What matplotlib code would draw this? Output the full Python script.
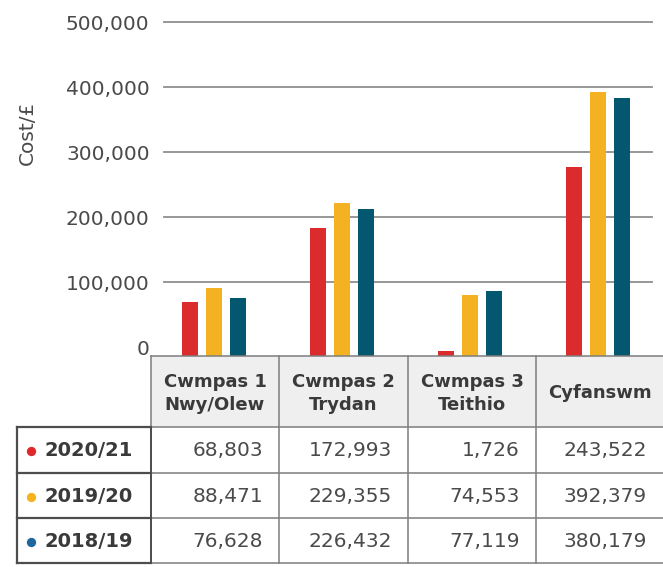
import matplotlib
matplotlib.use("Agg")
import matplotlib.pyplot as plt
from matplotlib.patches import Rectangle

plt.rcParams['font.family'] = ['DejaVu Sans']

# ---- data ----
categories = ["Cwmpas 1\nNwy/Olew", "Cwmpas 2\nTrydan", "Cwmpas 3\nTeithio", "Cyfanswm"]
years = ["2020/21", "2019/20", "2018/19"]
# bar heights as drawn in the chart
bars_2020_21 = [69700, 183500, -5500, 277000]
bars_2019_20 = [91200, 222000, 80500, 392800]
bars_2018_19 = [75800, 212800, 86600, 383500]
# table values as printed
table_2020_21 = ["68,803", "172,993", "1,726", "243,522"]
table_2019_20 = ["88,471", "229,355", "74,553", "392,379"]
table_2018_19 = ["76,628", "226,432", "77,119", "380,179"]
yticks = [0, 100000, 200000, 300000, 400000, 500000]
ylabel = "Cost/£"

bar_colors = ["#dc2b2c", "#f4b223", "#03576f"]
dot_colors = ["#e0282c", "#f5b324", "#1d679c"]
text_col = "#4a4a4a"

W, H = 663, 567
fig = plt.figure(figsize=(W / 100, H / 100), dpi=100)

# chart axes: x from 151 to 663 px, y from 10 to 356 px
ax_left, ax_right, ax_top, ax_bot = 151, 663, 10, 356
ax = fig.add_axes([ax_left / W, (H - ax_bot) / H, (ax_right - ax_left) / W, (ax_bot - ax_top) / H])
YMIN, YMAX = -13385, 518900
ax.set_ylim(YMIN, YMAX)
ax.set_xlim(-0.5, 3.5)

series = [bars_2020_21, bars_2019_20, bars_2018_19]
offsets = [-0.1875, 0.0, 0.1875]
for vals, off, col in zip(series, offsets, bar_colors):
    xs = [i + off - 0.008 for i in range(len(categories))]
    ax.bar(xs, [v - YMIN for v in vals], bottom=YMIN, width=0.125, color=col, zorder=3)

for t in yticks[1:]:
    ax.axhline(t, xmin=(164 - 151) / 512, xmax=(652 - 151) / 512, color="#8f8f8f", lw=1.3, zorder=1)

ax.set_yticks(yticks)
ax.set_yticklabels([f"{t:,}" for t in yticks], fontsize=14.5, color=text_col)
ax.tick_params(axis='y', length=0, pad=1)
ax.set_xticks([])
for s in ax.spines.values():
    s.set_visible(False)

fig.text(27 / W, 1 - 133 / H, ylabel, rotation=90, ha='center', va='center', fontsize=14.5, color=text_col)

# ---- table ----
tax = fig.add_axes([0, 0, 1, 1])
tax.set_xlim(0, W)
tax.set_ylim(H, 0)
tax.axis('off')

col_x = [151, 279, 408, 536, 663]
row_y = [356, 427, 473, 518, 563]
label_x0 = 17

# header
for i, cat in enumerate(categories):
    tax.add_patch(Rectangle((col_x[i], row_y[0]), col_x[i + 1] - col_x[i], row_y[1] - row_y[0],
                            facecolor="#efefef", edgecolor="none", zorder=1))
    tax.text((col_x[i] + col_x[i + 1]) / 2, (row_y[0] + row_y[1]) / 2 + 2, cat, ha='center', va='center',
             fontsize=13, fontweight='bold', color="#3a3a3a", linespacing=1.3)

grid_c = "#7d7d7d"
for y in row_y:
    tax.plot([col_x[0], W], [y, y], color=grid_c, lw=1.1, zorder=2)
for x in col_x[:-1]:
    tax.plot([x, x], [row_y[0], row_y[-1]], color=grid_c, lw=1.1, zorder=2)

# row header cells
dark = "#4d4d4d"
tax.plot([label_x0, label_x0], [row_y[1], row_y[-1]], color=dark, lw=1.6, zorder=3)
for y in row_y[1:]:
    tax.plot([label_x0, col_x[0]], [y, y], color=dark, lw=1.6, zorder=3)
tax.plot([col_x[0], col_x[0]], [row_y[1], row_y[-1]], color=dark, lw=1.4, zorder=3)

tables = [table_2020_21, table_2019_20, table_2018_19]
for r, (yr, vals) in enumerate(zip(years, tables)):
    yc = (row_y[r + 1] + row_y[r + 2]) / 2 + 1
    tax.scatter([31], [yc], s=45, color=dot_colors[r], zorder=4, linewidths=0)
    tax.text(44, yc, yr, ha='left', va='center', fontsize=14, fontweight='bold', color="#3a3a3a")
    for c, v in enumerate(vals):
        tax.text(col_x[c + 1] - 16, yc, v, ha='right', va='center', fontsize=14.5, color=text_col)

fig.savefig("out.png", dpi=100, facecolor="white")
